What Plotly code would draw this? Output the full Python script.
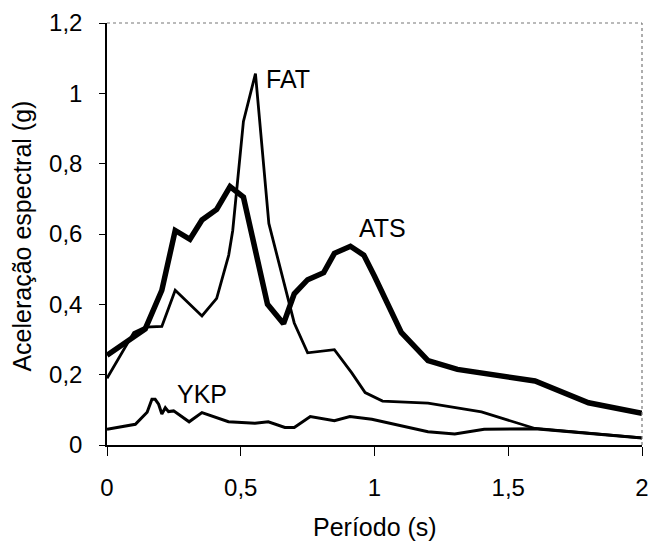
import plotly.graph_objects as go

# ATS (thick)
ats_x = [0, 0.07, 0.143, 0.205, 0.255, 0.31, 0.355, 0.41, 0.46, 0.51, 0.60, 0.66, 0.70, 0.75, 0.81, 0.85, 0.91, 0.96, 1.0, 1.10, 1.20, 1.31, 1.60, 1.80, 2.0]
ats_y = [0.255, 0.29, 0.33, 0.44, 0.61, 0.585, 0.64, 0.67, 0.735, 0.705, 0.40, 0.345, 0.43, 0.47, 0.49, 0.545, 0.565, 0.54, 0.48, 0.32, 0.24, 0.215, 0.182, 0.12, 0.09]

# FAT
fat_x = [0, 0.10, 0.143, 0.205, 0.255, 0.355, 0.41, 0.455, 0.47, 0.51, 0.555, 0.605, 0.70, 0.75, 0.85, 0.915, 0.965, 1.03, 1.2, 1.4, 1.6, 2.0]
fat_y = [0.19, 0.32, 0.335, 0.337, 0.44, 0.367, 0.417, 0.54, 0.61, 0.92, 1.056, 0.63, 0.347, 0.262, 0.271, 0.205, 0.149, 0.125, 0.119, 0.094, 0.047, 0.02]

# YKP
ykp_x = [0, 0.106, 0.15, 0.168, 0.18, 0.193, 0.205, 0.218, 0.23, 0.249, 0.307, 0.355, 0.454, 0.553, 0.603, 0.665, 0.70, 0.76, 0.85, 0.908, 0.99, 1.2, 1.3, 1.41, 1.6, 2.0]
ykp_y = [0.045, 0.059, 0.093, 0.13, 0.13, 0.116, 0.088, 0.106, 0.095, 0.097, 0.066, 0.092, 0.066, 0.062, 0.066, 0.05, 0.05, 0.081, 0.069, 0.081, 0.073, 0.038, 0.031, 0.045, 0.046, 0.02]

x_ticks = [0, 0.5, 1, 1.5, 2]
x_tick_labels = ["0", "0,5", "1", "1,5", "2"]
y_ticks = [0, 0.2, 0.4, 0.6, 0.8, 1.0, 1.2]
y_tick_labels = ["0", "0,2", "0,4", "0,6", "0,8", "1", "1,2"]

labels = [("FAT", 0.678, 1.041), ("ATS", 1.031, 0.618), ("YKP", 0.356, 0.145)]

FONT = "Arial, Liberation Sans, sans-serif"

fig = go.Figure()
fig.add_trace(go.Scatter(x=ykp_x, y=ykp_y, mode="lines", line=dict(color="black", width=3), showlegend=False))
fig.add_trace(go.Scatter(x=fat_x, y=fat_y, mode="lines", line=dict(color="black", width=2.8), showlegend=False))
fig.add_trace(go.Scatter(x=ats_x, y=ats_y, mode="lines", line=dict(color="black", width=5.5), showlegend=False))

for name, lx, ly in labels:
    fig.add_annotation(x=lx, y=ly, text=name, showarrow=False, xanchor="center", yanchor="middle",
                       font=dict(family=FONT, size=25, color="black"))

fig.add_annotation(xref="paper", yref="paper", x=0.5, y=-0.194, text="Período (s)", showarrow=False,
                   xanchor="center", yanchor="middle", font=dict(family=FONT, size=25, color="black"))
fig.add_annotation(xref="paper", yref="paper", x=-0.158, y=0.495, text="Aceleração espectral (g)", showarrow=False,
                   textangle=-90, xanchor="center", yanchor="middle", font=dict(family=FONT, size=25, color="black"))

# top and right border (dotted grey, as in the scan)
fig.add_shape(type="line", xref="paper", yref="paper", x0=0, x1=1, y0=1, y1=1,
              line=dict(color="#777777", width=1.2, dash="dot"))
fig.add_shape(type="line", xref="paper", yref="paper", x0=1, x1=1, y0=0, y1=1,
              line=dict(color="#777777", width=1.2, dash="dot"))

fig.update_xaxes(range=[0, 2], tickvals=x_ticks, ticktext=x_tick_labels, showgrid=False, zeroline=False,
                 showline=True, linecolor="black", linewidth=1.5, ticks="outside", ticklen=9, tickwidth=1.2,
                 tickcolor="black", ticklabelstandoff=11, automargin=False,
                 tickfont=dict(family=FONT, size=24, color="black"))
fig.update_yaxes(range=[0, 1.2], tickvals=y_ticks, ticktext=y_tick_labels, showgrid=False, zeroline=False,
                 showline=True, linecolor="black", linewidth=1.5, ticks="outside", ticklen=6, tickwidth=1.2,
                 tickcolor="black", ticklabelstandoff=12, automargin=False,
                 tickfont=dict(family=FONT, size=24, color="black"))

fig.update_layout(width=650, height=544, margin=dict(l=106.5, r=8.3, t=22.7, b=99, autoexpand=False),
                  plot_bgcolor="white", paper_bgcolor="white")

fig.write_html("out.html")
